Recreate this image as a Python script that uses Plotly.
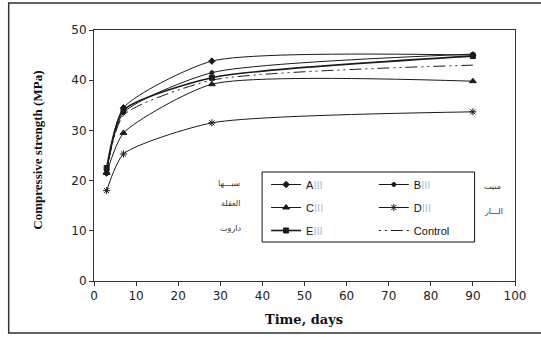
import plotly.graph_objects as go

days = [3, 7, 28, 90]
series_names = ["A", "B", "C", "D", "E", "Control"]
A_vals = [21.5, 34.5, 43.8, 45.0]
B_vals = [22.0, 33.5, 41.5, 45.2]
C_vals = [21.5, 29.5, 39.2, 39.8]
D_vals = [18.0, 25.3, 31.5, 33.7]
E_vals = [22.5, 34.0, 40.5, 44.8]
Control_vals = [22.0, 33.0, 40.0, 43.0]
x_ticks = list(range(0, 101, 10))
y_ticks = list(range(0, 51, 10))
left_labels = ["سبـــها", "العقلة", "داروت"]
right_labels = ["منيت", "الـــار"]

W, H = 541, 337
L, R, T, B = 93.5, 515.5, 30, 281


def xp(px):
    return (px - L) / (R - L)


def yp(py):
    return (B - py) / (B - T)


line_c = "#1a1a1a"
sub = "<span style='color:#a9bfdc'>III</span>"

styles = {
    "A": dict(symbol="diamond", size=5, lw=1.0, legend="legend", dash="solid"),
    "B": dict(symbol="circle", size=4, lw=1.0, legend="legend2", dash="solid"),
    "C": dict(symbol="triangle-up", size=6, lw=1.0, legend="legend", dash="solid"),
    "D": dict(symbol="asterisk-open", size=6, lw=1.0, legend="legend2", dash="solid"),
    "E": dict(symbol="square", size=5, lw=1.6, legend="legend", dash="solid"),
    "Control": dict(symbol=None, size=0, lw=1.0, legend="legend2", dash="2px,4px,2px,4px,12px,4px"),
}
values = {"A": A_vals, "B": B_vals, "C": C_vals, "D": D_vals, "E": E_vals, "Control": Control_vals}

fig = go.Figure()
for name in series_names:
    st = styles[name]
    label = name + sub if name != "Control" else "Control"
    if st["symbol"] is None:
        mode = "lines"
        marker = None
    else:
        mode = "lines+markers"
        marker = dict(symbol=st["symbol"], size=st["size"], color=line_c,
                      line=dict(color=line_c, width=1))
    fig.add_trace(go.Scatter(
        x=days, y=values[name], name=label, mode=mode,
        line=dict(color=line_c, width=st["lw"], shape="spline", smoothing=0.6, dash=st["dash"]),
        marker=marker, legend=st["legend"], legendgroup=name,
    ))

legend_common = dict(
    bgcolor="rgba(0,0,0,0)", borderwidth=0,
    font=dict(family="Liberation Sans, Arial", size=11, color="#111"),
    tracegroupgap=4, xanchor="left", yanchor="top", orientation="v",
)
fig.update_layout(
    legend=dict(x=xp(266), y=yp(170), **legend_common),
    legend2=dict(x=xp(374), y=yp(170), **legend_common),
)

tick_font = dict(family="DejaVu Sans", size=12, color="#222")
fig.update_xaxes(
    range=[0, 100], tickvals=x_ticks, ticks="outside", ticklen=4, tickcolor="#333",
    showline=True, linecolor="#333", linewidth=1, mirror=True, showgrid=False, zeroline=False,
    tickfont=tick_font,
)
fig.update_yaxes(
    range=[0, 50], tickvals=y_ticks, ticks="outside", ticklen=4, tickcolor="#333",
    showline=True, linecolor="#333", linewidth=1, mirror=True, showgrid=False, zeroline=False,
    tickfont=tick_font,
)

shapes = [
    # outer frame
    dict(type="rect", xref="paper", yref="paper", x0=xp(8), x1=xp(560), y0=yp(333), y1=yp(3),
         line=dict(color="#333", width=1.5)),
    # legend box
    dict(type="rect", xref="paper", yref="paper", x0=xp(262), x1=xp(475), y0=yp(242), y1=yp(172),
         line=dict(color="#111", width=1)),
]

annotations = [
    dict(text="<b>Compressive strength (MPa)</b>", xref="paper", yref="paper",
         x=xp(36), y=yp(150), xanchor="center", yanchor="middle", textangle=-90, showarrow=False,
         font=dict(family="Liberation Serif, Times New Roman", size=13, color="#111")),
    dict(text="<b>Time, days</b>", xref="paper", yref="paper",
         x=xp(304), y=yp(319), xanchor="center", yanchor="middle", showarrow=False,
         font=dict(family="DejaVu Serif", size=13, color="#111")),
]
left_y = [183, 203, 228]
for lab, py in zip(left_labels, left_y):
    annotations.append(dict(text=lab, xref="paper", yref="paper", x=xp(243), y=yp(py),
                            xanchor="right", yanchor="middle", showarrow=False,
                            font=dict(family="DejaVu Sans", size=8, color="#333")))
right_y = [186, 211]
for lab, py in zip(right_labels, right_y):
    annotations.append(dict(text=lab, xref="paper", yref="paper", x=xp(482), y=yp(py),
                            xanchor="left", yanchor="middle", showarrow=False,
                            font=dict(family="DejaVu Sans", size=8, color="#333")))

fig.update_layout(
    width=W, height=H, autosize=False,
    margin=dict(l=L, r=W - R, t=T, b=H - B),
    plot_bgcolor="white", paper_bgcolor="white",
    shapes=shapes, annotations=annotations,
)

fig.write_html("out.html", config={"displayModeBar": False},
               post_script="document.body.style.margin='0';document.body.style.overflow='hidden';")
